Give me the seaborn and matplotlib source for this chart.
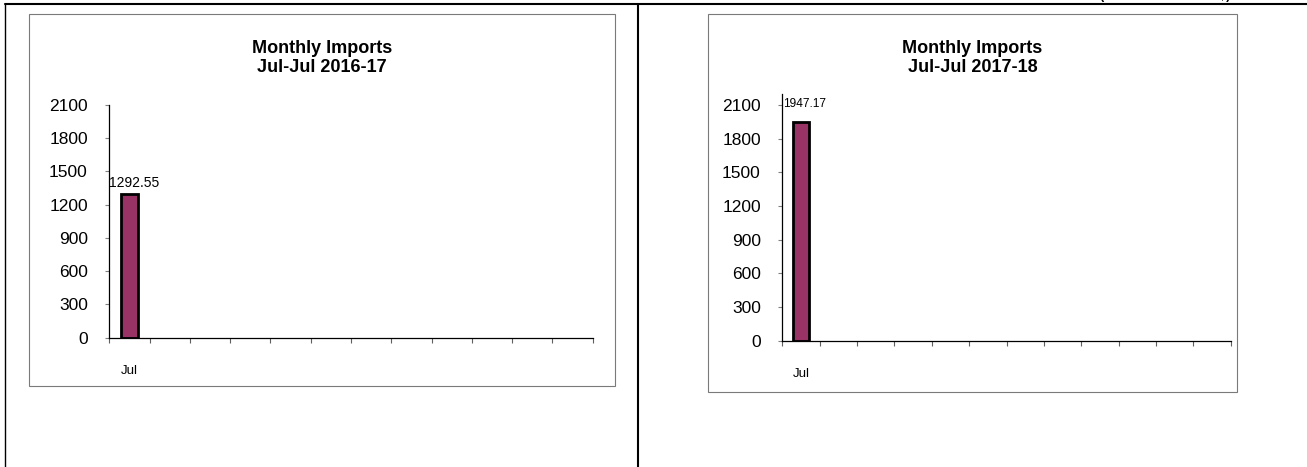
import numpy as np
import pandas as pd
import seaborn as sns
import matplotlib.pyplot as plt
from matplotlib.patches import Rectangle
from matplotlib.lines import Line2D

months = ["Jul", "Aug", "Sep", "Oct", "Nov", "Dec",
          "Jan", "Feb", "Mar", "Apr", "May", "Jun"]
imports_2016_17 = [1292.55] + [np.nan] * 11
imports_2017_18 = [1947.17] + [np.nan] * 11
titles = ["Monthly Imports\nJul-Jul 2016-17", "Monthly Imports\nJul-Jul 2017-18"]
y_ticks = list(range(0, 2101, 300))
unit_note = "(Value in Million US $)"

sns.set_style("white")
plt.rcParams['font.family'] = ['Liberation Sans', 'DejaVu Sans']
plt.rcParams['text.color'] = 'black'
plt.rcParams['xtick.labelcolor'] = 'black'
plt.rcParams['ytick.labelcolor'] = 'black'

W, H = 1307, 467
fig = plt.figure(figsize=(W / 100, H / 100), dpi=100)


def px_box(x0, y0, x1, y1):
    # pixel box (top-left origin) -> figure fraction [left, bottom, width, height]
    return [x0 / W, 1 - y1 / H, (x1 - x0) / W, (y1 - y0) / H]


# outer table lines
fig.add_artist(Line2D([5 / W, 1], [1 - 4 / H, 1 - 4 / H], color='black', lw=1.5))
fig.add_artist(Line2D([5 / W, 5 / W], [0, 1 - 4 / H], color='black', lw=1.0))
fig.add_artist(Line2D([638 / W, 638 / W], [0, 1 - 4 / H], color='black', lw=1.5))

# unit note, cut by the top edge as in the source page
fig.text(1165 / W, 1 + 0.6 / H, unit_note, ha='center', va='baseline',
         fontsize=9, fontweight='bold')

panels = [
    dict(values=imports_2016_17, box=(28.7, 14, 614.7, 386),
         axes=(109.3, 105, 592.6, 337.7), ymax=2100,
         lbl_size=10, lbl_dx=3.6, lbl_dy=8.5, title=titles[0]),
    dict(values=imports_2017_18, box=(708, 14, 1237, 392),
         axes=(782.3, 94, 1230.8, 340.7), ymax=2200,
         lbl_size=8.6, lbl_dx=2.9, lbl_dy=13.2, title=titles[1]),
]

for p in panels:
    bx0, by0, bx1, by1 = p['box']
    fig.add_artist(Rectangle((bx0 / W, 1 - by1 / H), (bx1 - bx0) / W, (by1 - by0) / H,
                             transform=fig.transFigure, fill=False,
                             edgecolor='#7a7a7a', lw=0.8))
    fig.text((bx0 + bx1) / 2 / W, 1 - 58 / H, p['title'], ha='center', va='center',
             fontsize=13, fontweight='bold', linespacing=1.2)

    ax = fig.add_axes(px_box(*p['axes']))
    df = pd.DataFrame({'month': months, 'value': p['values']})
    sns.barplot(data=df, x='month', y='value', order=months, color='#993366',
                saturation=1, edgecolor='black', linewidth=2, width=0.42,
                errorbar=None, ax=ax)

    ax.set_xlim(-0.5, len(months) - 0.5)
    ax.set_ylim(0, p['ymax'])
    ax.set_yticks(y_ticks)
    ax.set_yticklabels([str(t) for t in y_ticks])
    ax.set_xticks(range(len(months)))
    ax.set_xticklabels([m if not np.isnan(v) else "" for m, v in zip(months, p['values'])])
    ax.set_xticks(np.arange(-0.5, len(months)), minor=True)
    ax.set_xlabel("")
    ax.set_ylabel("")

    ax.tick_params(axis='y', which='major', direction='out', length=3, width=0.8,
                   color='#808080', labelcolor='black', labelsize=12.5, pad=12.5, left=True)
    ax.tick_params(axis='x', which='major', length=0, labelcolor='black',
                   labelsize=9.5, pad=20)
    ax.tick_params(axis='x', which='minor', direction='out', length=3.6, width=0.8,
                   color='#606060', bottom=True)

    for side in ['top', 'right']:
        ax.spines[side].set_visible(False)
    for side in ['left', 'bottom']:
        ax.spines[side].set_color('black')
        ax.spines[side].set_linewidth(0.9)
    ax.patch.set_alpha(0)

    for i, v in enumerate(p['values']):
        if not np.isnan(v):
            ax.annotate(f"{v:.2f}", xy=(i, v), xytext=(p['lbl_dx'], p['lbl_dy']),
                        textcoords='offset points', ha='center', va='center',
                        fontsize=p['lbl_size'], color='black')

fig.savefig("out.png", dpi=100)
